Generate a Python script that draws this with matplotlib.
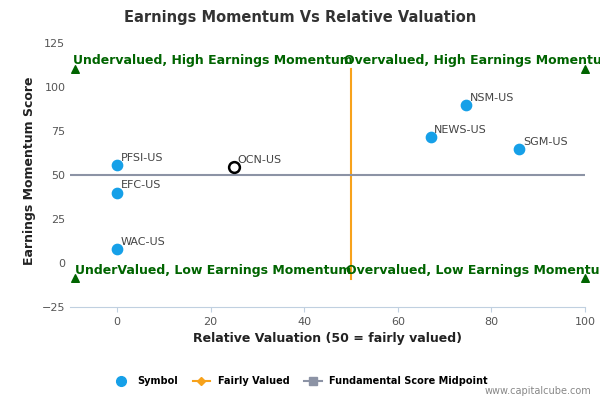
import matplotlib.pyplot as plt
from matplotlib.lines import Line2D

symbols = ["PFSI-US", "EFC-US", "WAC-US", "OCN-US", "NEWS-US", "NSM-US", "SGM-US"]
valuation = [0, 0, 0, 25, 67, 74.5, 86]
momentum = [55.5, 40, 8, 54.5, 71.5, 89.5, 64.5]
highlight = "OCN-US"

quad_labels = ["Undervalued, High Earnings Momentum", "Overvalued, High Earnings Momentum",
               "UnderValued, Low Earnings Momentum", "Overvalued, Low Earnings Momentum"]
quad_x = [20.5, 77.5, 20.5, 77.5]
quad_y = [115, 115, -4, -4]
tri_x = [-9, 100, -9, 100]
tri_y = [110, 110, -8.5, -8.5]

fig = plt.figure(figsize=(6, 4), dpi=100)
ax = fig.add_axes([0.117, 0.232, 0.858, 0.683])
ax.set_xlim(-10, 100)
ax.set_ylim(-25, 130)

ax.plot([50, 50], [-9, 110], color="#f7a21b", lw=1.5, zorder=2)
ax.plot([-10, 100], [50, 50], color="#8c93a5", lw=1.5, zorder=2)

for s, x, y in zip(symbols, valuation, momentum):
    if s == highlight:
        ax.scatter(x, y, s=60, facecolor="white", edgecolor="black", lw=1.8, zorder=4)
    else:
        ax.scatter(x, y, s=55, color="#16a0e8", zorder=4)
    ax.text(x + 0.8, y + 2.5, s, fontsize=8, color="#444444", zorder=5)

ax.scatter(tri_x, tri_y, marker="^", s=30, color="#006400", zorder=3, clip_on=False)
for lab, x, y in zip(quad_labels, quad_x, quad_y):
    ax.text(x, y, lab, ha="center", va="center", fontsize=9, fontweight="bold",
            color="#006400", zorder=5)

for sp in ["top", "right", "left"]:
    ax.spines[sp].set_visible(False)
ax.spines["bottom"].set_color("#c0d0e0")
ax.tick_params(axis="y", length=0, labelsize=8, colors="#555555")
ax.tick_params(axis="x", labelsize=8, colors="#555555", color="#c0d0e0")
ax.set_xticks([0, 20, 40, 60, 80, 100])
ax.set_yticks([-25, 0, 25, 50, 75, 100, 125])
ax.set_xlabel("Relative Valuation (50 = fairly valued)", fontsize=9, fontweight="bold", color="#222222")
ax.set_ylabel("Earnings Momentum Score", fontsize=9, fontweight="bold", color="#222222")
fig.suptitle("Earnings Momentum Vs Relative Valuation", x=0.5, y=0.975, fontsize=10.5,
             fontweight="bold", color="#333333")

handles = [
    Line2D([], [], marker="o", ls="", color="#16a0e8", markersize=7),
    Line2D([], [], marker="D", color="#f7a21b", markersize=4, lw=1.5),
    Line2D([], [], marker="s", color="#8c93a5", markersize=6, lw=1.5),
]
fig.legend(handles, ["Symbol", "Fairly Valued", "Fundamental Score Midpoint"],
           loc="center", bbox_to_anchor=(0.5, 0.047), ncol=3, frameon=False,
           prop={"size": 7, "weight": "bold"}, handlelength=1.8, columnspacing=1.5)
fig.text(0.985, 0.015, "www.capitalcube.com", ha="right", fontsize=7, color="#888888")

fig.savefig("out.png", dpi=100)
